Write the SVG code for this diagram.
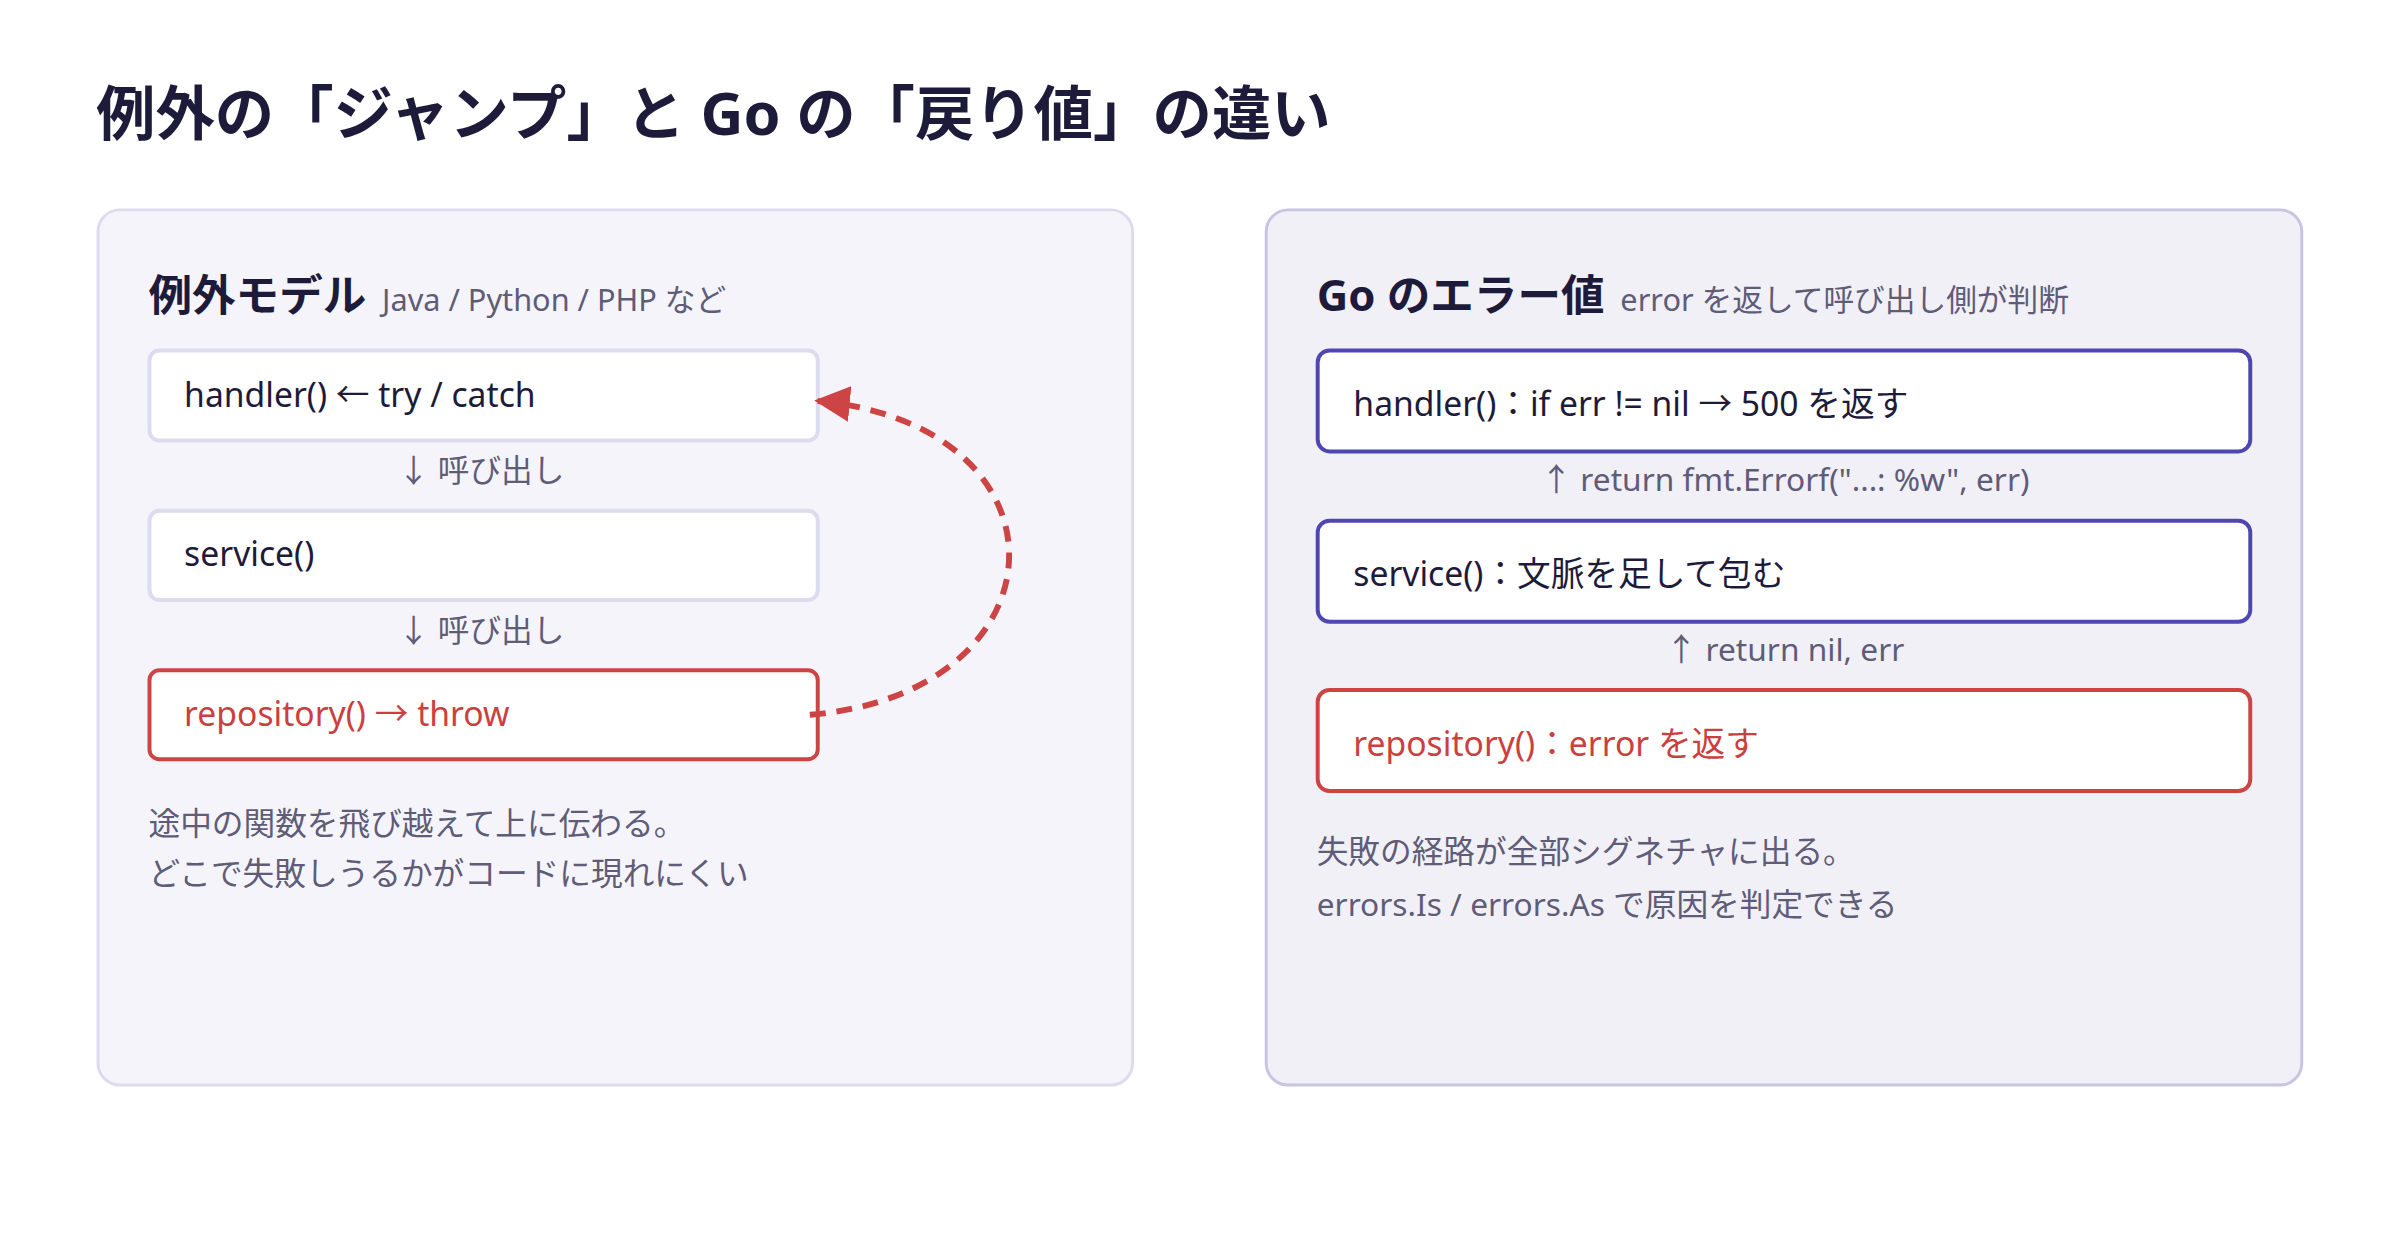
<svg xmlns="http://www.w3.org/2000/svg" width="2400" height="1260" viewBox="0 0 2400 1260">
<defs>
<style>
text{font-family:"Noto Sans","Noto Sans CJK JP",sans-serif}
.t{font-size:60px;font-weight:700;fill:#1e1b3a}
.h{font-size:44px;font-weight:700;fill:#1e1b3a}
.s{font-size:31px;fill:#5f5c78}
.b{font-size:34px;fill:#1e1b3a}
.r{fill:#cc3f3f}
.l{font-size:32px;fill:#5f5c78}
.f{font-size:32px;fill:#5f5c78}
.bx{fill:#fff;stroke:#dddbee;stroke-width:4}
.bp{fill:#fff;stroke:#5046b0;stroke-width:4}
.br{fill:#fff;stroke:#cc4444;stroke-width:4}
</style>
<marker id="ah" viewBox="0 0 10 10" refX="9" refY="5" markerWidth="6" markerHeight="6" orient="auto" markerUnits="strokeWidth"><path d="M0,0L10,5L0,10z" fill="#cc4444"/></marker>
</defs>
<rect width="2400" height="1260" fill="#fff"/>
<g transform="scale(0.99)">
<text class="t" x="97" y="136">例外の「ジャンプ」と Go の「戻り値」の違い</text>
<g id="left">
<rect x="99" y="212" width="1045" height="884" rx="22" fill="#f5f4fb" stroke="#dddbee" stroke-width="3"/>
<text x="150" y="314"><tspan class="h">例外モデル</tspan><tspan class="s" dx="16">Java / Python / PHP など</tspan></text>
</g>
<g id="l-handler"><rect class="bx" x="151" y="354" width="675" height="91" rx="10"/><text class="b" x="186" y="411">handler() ← try / catch</text></g>
<g id="l-service"><rect class="bx" x="151" y="516" width="675" height="90" rx="10"/><text class="b" x="186" y="572">service()</text></g>
<g id="l-repo"><rect class="br" x="151" y="677" width="675" height="90" rx="10"/><text class="b r" x="186" y="733">repository() → throw</text></g>
<g id="l-notes">
<text class="l" x="486" y="487" text-anchor="middle">↓ 呼び出し</text>
<text class="l" x="486" y="648" text-anchor="middle">↓ 呼び出し</text>
<text class="f" x="150" y="843">途中の関数を飛び越えて上に伝わる。</text>
<text class="f" x="150" y="894">どこで失敗しうるかがコードに現れにくい</text>
</g>
<g id="right">
<rect x="1279" y="212" width="1046" height="884" rx="22" fill="#f1f0f7" stroke="#c8c4e4" stroke-width="3"/>
<text x="1330" y="314"><tspan class="h">Go のエラー値</tspan><tspan class="s" dx="16">error を返して呼び出し側が判断</tspan></text>
</g>
<g id="r-handler"><rect class="bp" x="1331" y="354" width="942" height="102" rx="12"/><text class="b" x="1367" y="420">handler()：if err != nil → 500 を返す</text></g>
<g id="r-service"><rect class="bp" x="1331" y="526" width="942" height="102" rx="12"/><text class="b" x="1367" y="592">service()：文脈を足して包む</text></g>
<g id="r-repo"><rect class="br" x="1331" y="697" width="942" height="102" rx="12"/><text class="b r" x="1367" y="764">repository()：error を返す</text></g>
<g id="r-notes">
<text class="l" x="1803" y="496" text-anchor="middle">↑ return fmt.Errorf("...: %w", err)</text>
<text class="l" x="1803" y="668" text-anchor="middle">↑ return nil, err</text>
<text class="f" x="1330" y="872">失敗の経路が全部シグネチャに出る。</text>
<text class="f" x="1330" y="925">errors.Is / errors.As で原因を判定できる</text>
</g>
<g id="connectors">
<path d="M818,722 C1080,700 1090,430 826,405" fill="none" stroke="#cc4444" stroke-width="6" stroke-dasharray="16 11" marker-end="url(#ah)"/>
</g>
</g>
</svg>
